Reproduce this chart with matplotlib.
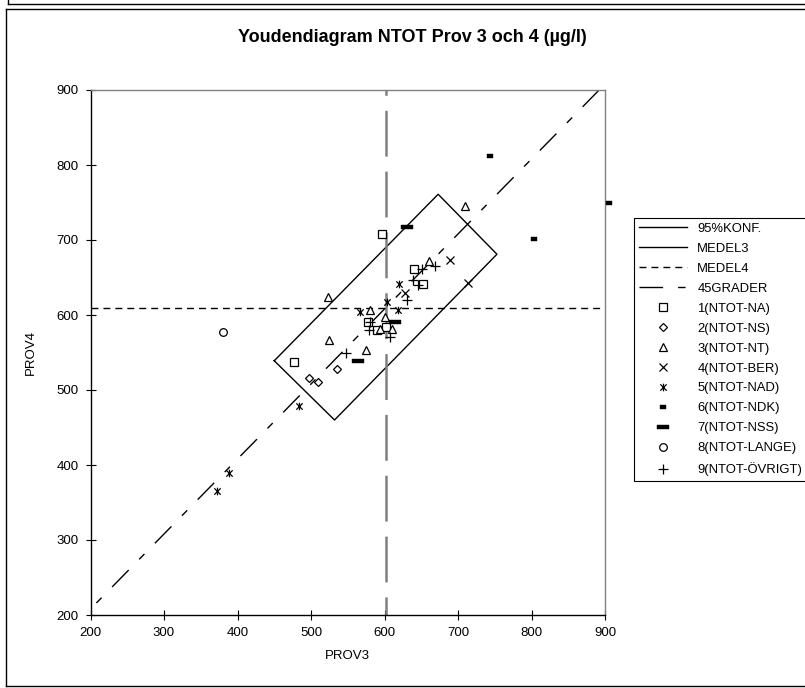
import matplotlib
matplotlib.use('Agg')
import matplotlib.pyplot as plt
from matplotlib.lines import Line2D
from matplotlib.path import Path

plt.rcParams['font.family'] = ['Liberation Sans', 'DejaVu Sans']
plt.rcParams['lines.scale_dashes'] = False

# ---- data ----
title = 'Youdendiagram NTOT Prov 3 och 4 (µg/l)'
xticks = [200, 300, 400, 500, 600, 700, 800, 900]
yticks = [200, 300, 400, 500, 600, 700, 800, 900]

medel3 = 602
medel4 = 610
konf_x = [450, 532, 753, 673]
konf_y = [539, 460, 681, 761]
grad_x = [208, 892]

na_x = [477, 596, 640, 652, 577, 590, 602]
na_y = [538, 708, 662, 642, 591, 580, 584]
ns_x = [497, 509, 536]
ns_y = [516, 511, 528]
nt_x = [523, 525, 710, 660, 575, 580, 601, 594, 610]
nt_y = [624, 567, 746, 672, 553, 607, 598, 582, 582]
ber_x = [689, 713, 628]
ber_y = [674, 643, 629]
nad_x = [372, 389, 483, 566, 603, 620, 619]
nad_y = [365, 390, 479, 604, 618, 642, 607]
ndk_x = [743, 803, 905]
ndk_y = [812, 702, 749]
nss_x = [631, 564, 614]
nss_y = [717, 539, 591]
lange_x = [380]
lange_y = [578]
ovr_x = [669, 651, 639, 646, 630, 580, 579, 607, 548]
ovr_y = [665, 661, 647, 640, 620, 591, 580, 571, 549]

labels = ['95%KONF.', 'MEDEL3', 'MEDEL4', '45GRADER',
          '1(NTOT-NA)', '2(NTOT-NS)', '3(NTOT-NT)', '4(NTOT-BER)',
          '5(NTOT-NAD)', '6(NTOT-NDK)', '7(NTOT-NSS)', '8(NTOT-LANGE)',
          '9(NTOT-ÖVRIGT)']

# ---- figure ----
W, H = 805, 688
fig = plt.figure(figsize=(W / 100, H / 100), dpi=100)
ax = fig.add_axes([90.5 / W, 73 / H, 514.5 / W, 525 / H])

grad_y = [x + medel4 - medel3 for x in grad_x]
dash45 = (0, (5.4, 10.8, 17, 10.8))

ax.plot(konf_x + konf_x[:1], konf_y + konf_y[:1], color='black', lw=1, zorder=2)
ax.plot([medel3, medel3], [200, 900], color='#808080', lw=1.8,
        linestyle=(20, (33, 10.8)), zorder=2)
ax.plot([200, 900], [medel4, medel4], color='black', lw=1,
        linestyle=(0, (5, 3.6)), zorder=2)
ax.plot(grad_x, grad_y, color='black', lw=1, linestyle=dash45, zorder=2)

# custom markers
star = Path([(-1, -1), (1, 1), (-1, 1), (1, -1), (0, -1.2), (0, 1.2)],
            [Path.MOVETO, Path.LINETO, Path.MOVETO, Path.LINETO,
             Path.MOVETO, Path.LINETO])
small_dash = [(-1, -0.6), (1, -0.6), (1, 0.6), (-1, 0.6), (-1, -0.6)]
thick_dash = [(-1, -0.28), (1, -0.28), (1, 0.28), (-1, 0.28), (-1, -0.28)]

styles = [
    dict(marker='s', ms=5.2, mfc='white', mec='black', mew=0.9),
    dict(marker='D', ms=4.3, mfc='white', mec='black', mew=0.9),
    dict(marker='^', ms=6, mfc='white', mec='black', mew=0.9),
    dict(marker='x', ms=5.5, mec='black', mew=0.9),
    dict(marker=star, ms=5.5, mfc='none', mec='black', mew=0.9),
    dict(marker=small_dash, ms=3.8, mfc='black', mec='black', mew=0.3),
    dict(marker=thick_dash, ms=8, mfc='black', mec='black', mew=0.3),
    dict(marker='o', ms=5.5, mfc='white', mec='black', mew=0.9),
    dict(marker='+', ms=6.5, mec='black', mew=0.9),
]
series = [(na_x, na_y), (ns_x, ns_y), (nt_x, nt_y), (ber_x, ber_y),
          (nad_x, nad_y), (ndk_x, ndk_y), (nss_x, nss_y),
          (lange_x, lange_y), (ovr_x, ovr_y)]
for (sx, sy), st in zip(series, styles):
    ax.plot(sx, sy, linestyle='none', clip_on=False, zorder=3, **st)

ax.set_xlim(200, 900)
ax.set_ylim(200, 900)
ax.set_xticks(xticks)
ax.set_yticks(yticks)
ax.tick_params(direction='inout', length=7, width=0.8, labelsize=9.5, pad=5,
               colors='black')
for s in ['top', 'right']:
    ax.spines[s].set_color('#808080')
    ax.spines[s].set_linewidth(1)
for s in ['left', 'bottom']:
    ax.spines[s].set_color('black')
    ax.spines[s].set_linewidth(1)
ax.set_xlabel('PROV3', fontsize=9.5, labelpad=8)
ax.set_ylabel('PROV4', fontsize=9.5, labelpad=14)

fig.text(412 / W, 1 - 38 / H, title, ha='center', va='center',
         fontsize=13, fontweight='bold')

# legend
handles = [
    Line2D([], [], color='black', lw=1),
    Line2D([], [], color='black', lw=1),
    Line2D([], [], color='black', lw=1, linestyle=(0, (5, 3.6))),
    Line2D([], [], color='black', lw=1, linestyle=(0, (17, 10.8, 5.4, 10.8))),
]
for st in styles:
    handles.append(Line2D([], [], linestyle='none', **st))
leg = fig.legend(handles, labels, loc='upper left',
                 bbox_to_anchor=(634 / W, 1 - 218 / H),
                 bbox_transform=fig.transFigure,
                 borderaxespad=0, frameon=True, fancybox=False,
                 edgecolor='black', framealpha=1, fontsize=9.4,
                 handlelength=3.7, handletextpad=0.8,
                 labelspacing=0.6, borderpad=0.35)
leg.get_frame().set_linewidth(0.8)

# chart borders
def fline(x0, y0, x1, y1, **kw):
    fig.add_artist(Line2D([x0 / W, x1 / W], [1 - y0 / H, 1 - y1 / H],
                          transform=fig.transFigure, color='black', lw=1, **kw))

fline(8, 0, 8, 4)
fline(8, 4, 805, 4)
fline(6, 9, 805, 9)
fline(6, 9, 6, 686)
fline(6, 686, 805, 686)

fig.savefig('out.png', dpi=100)
